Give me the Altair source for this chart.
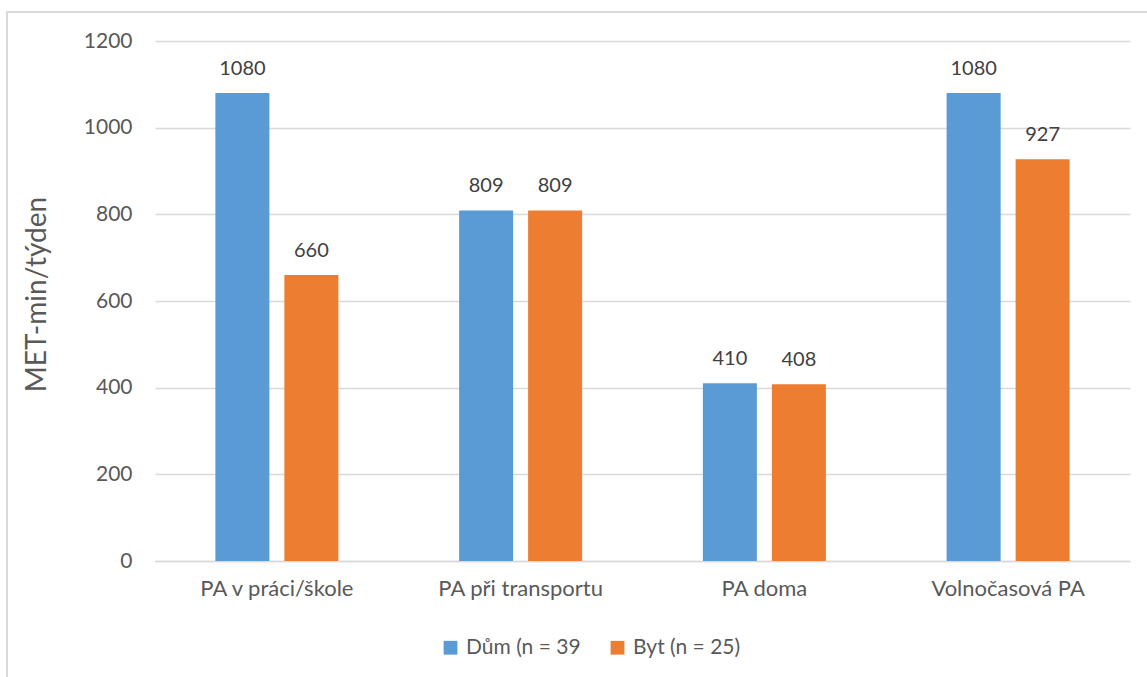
import altair as alt
import pandas as pd

# Physical activity by domain, grouped by housing type
categories = ["PA v práci/škole", "PA při transportu", "PA doma", "Volnočasová PA"]
series = ["Dům (n = 39", "Byt (n = 25)"]
dum_values = [1080, 809, 410, 1080]
byt_values = [660, 809, 408, 927]
colors = ["#5B9BD5", "#ED7D31"]
y_ticks = [0, 200, 400, 600, 800, 1000, 1200]

rows = []
for cat, d, b in zip(categories, dum_values, byt_values):
    rows.append({"kategorie": cat, "skupina": series[0], "hodnota": d})
    rows.append({"kategorie": cat, "skupina": series[1], "hodnota": b})
df = pd.DataFrame(rows)

FONT = "Lato"
W, H = 975, 520

x_enc = alt.X(
    "kategorie:N",
    sort=categories,
    title=None,
    scale=alt.Scale(paddingInner=0, paddingOuter=0),
    axis=alt.Axis(
        labelAngle=0,
        labelFont=FONT,
        labelFontSize=22,
        labelColor="#595959",
        labelPadding=17,
        ticks=False,
        domainColor="#D9D9D9",
        domainWidth=1.5,
        grid=False,
    ),
)
xoff_enc = alt.XOffset(
    "skupina:N",
    sort=series,
    scale=alt.Scale(paddingInner=0.217, paddingOuter=0.875),
)
y_enc = alt.Y(
    "hodnota:Q",
    title="MET-min/týden",
    scale=alt.Scale(domain=[0, 1200], nice=False),
    axis=alt.Axis(
        values=y_ticks,
        format="d",
        labelFont=FONT,
        labelFontSize=21,
        labelColor="#595959",
        labelPadding=23,
        ticks=False,
        domain=False,
        gridColor="#D9D9D9",
        gridWidth=1.5,
        titleFont=FONT,
        titleFontSize=28,
        titleFontWeight="normal",
        titleColor="#595959",
        titleAngle=-90,
        titleX=-118,
        titleY=253,
        titleAlign="center",
        titleBaseline="middle",
    ),
)

bars = alt.Chart(df).mark_bar().encode(
    x=x_enc,
    xOffset=xoff_enc,
    y=y_enc,
    color=alt.Color(
        "skupina:N",
        sort=series,
        scale=alt.Scale(domain=series, range=colors),
        legend=alt.Legend(
            title=None,
            orient="none",
            direction="horizontal",
            legendX=285,
            legendY=596,
            symbolType="square",
            symbolSize=190,
            symbolStrokeWidth=0,
            labelFont=FONT,
            labelFontSize=21,
            labelColor="#595959",
            labelOffset=5,
            columnPadding=26,
        ),
    ),
)

labels = alt.Chart(df).mark_text(
    font=FONT, fontSize=20, color="#404040", baseline="bottom", dy=-14
).encode(
    x=alt.X("kategorie:N", sort=categories),
    xOffset=alt.XOffset("skupina:N", sort=series),
    y="hodnota:Q",
    text="hodnota:Q",
)

# Thin frame around the whole chart
frame = alt.Chart(df).mark_rect(
    fill=None, stroke="#D9D9D9", strokeWidth=1.5, clip=False
).encode(
    x=alt.value(-148), x2=alt.value(W + 40), y=alt.value(-29), y2=alt.value(H + 140)
)

chart = (
    alt.layer(frame, bars, labels)
    .properties(
        width=W,
        height=H,
        autosize=alt.AutoSizeParams(type="none"),
        padding={"left": 155, "top": 41, "right": 17, "bottom": 116},
        background="white",
    )
    .configure_view(stroke=None)
)

chart.save("out.html", embed_options={"renderer": "svg", "actions": False})
